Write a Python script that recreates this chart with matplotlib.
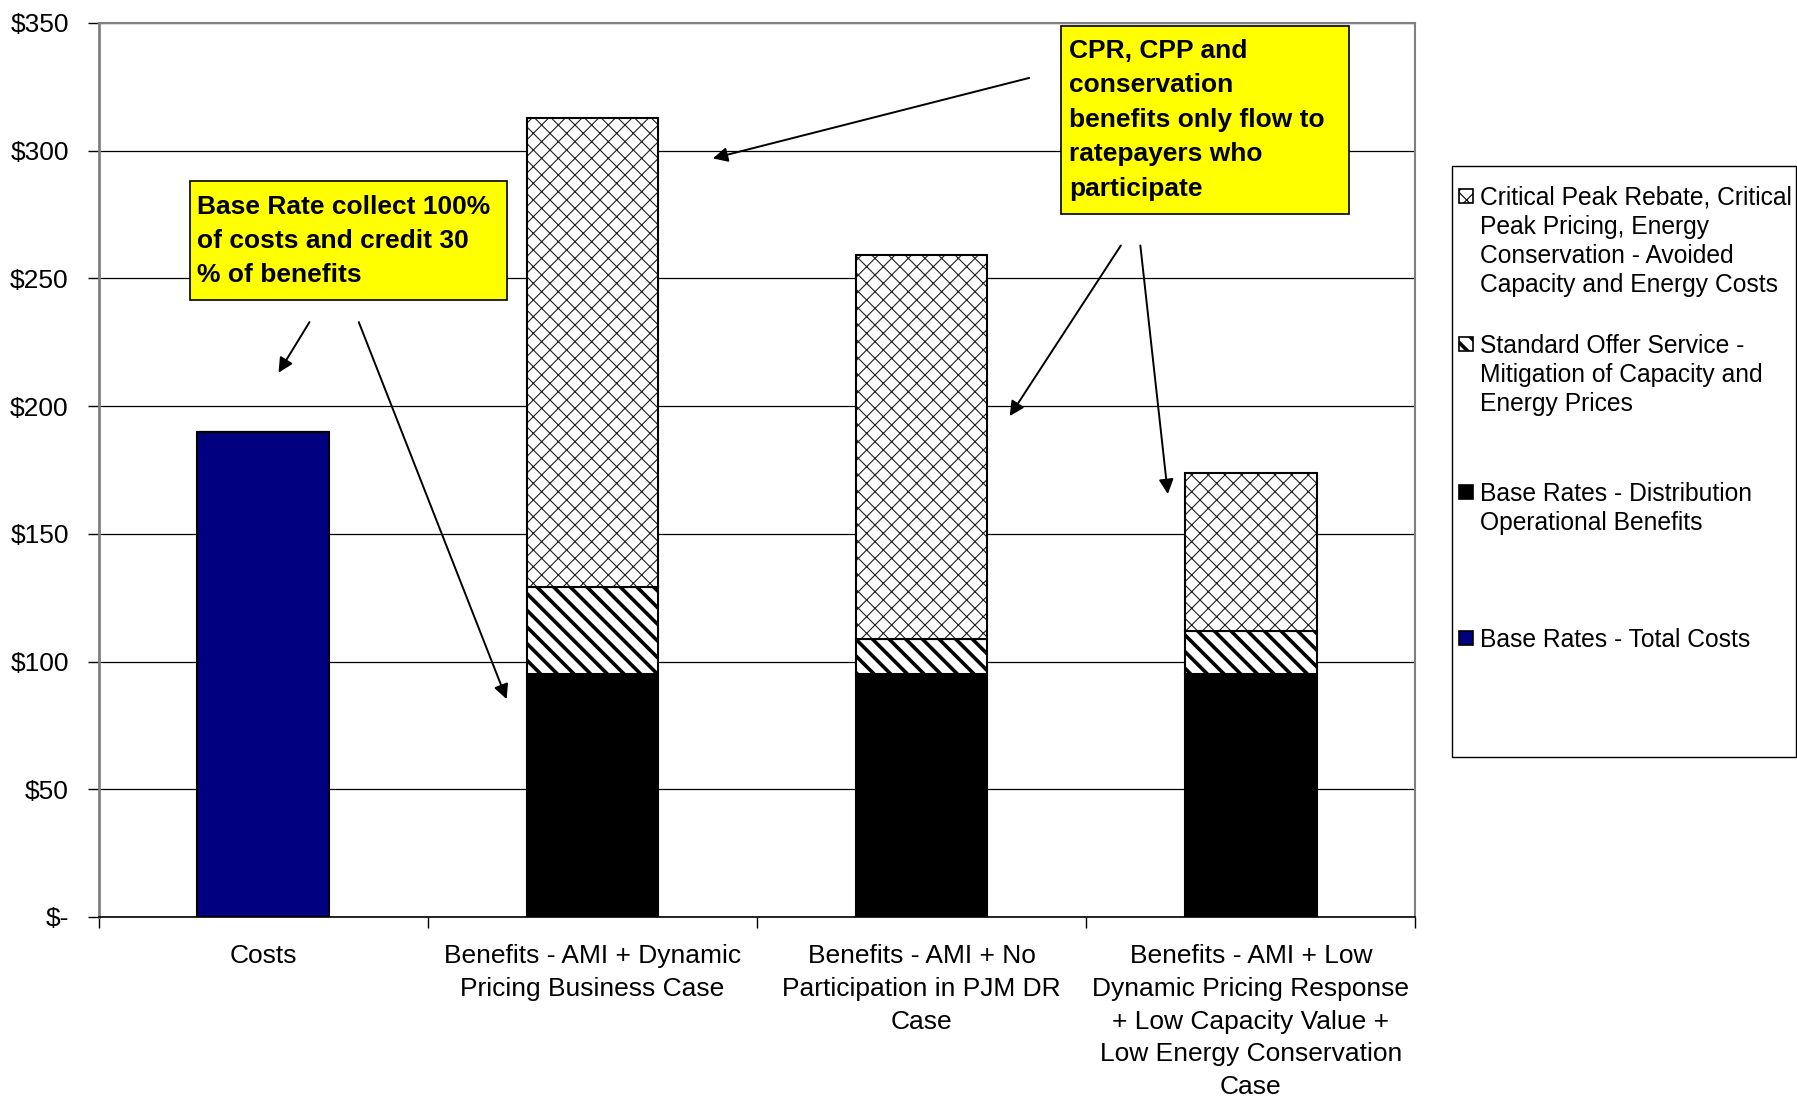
import matplotlib
matplotlib.use("Agg")
import matplotlib.pyplot as plt
from matplotlib.patches import Rectangle
from matplotlib.ticker import FixedLocator, FuncFormatter

plt.rcParams['font.family'] = ['Liberation Sans', 'DejaVu Sans']

# stacked benefit components vs. cost, $ millions
categories = ['Costs',
              'Benefits - AMI + Dynamic\nPricing Business Case',
              'Benefits - AMI + No\nParticipation in PJM DR\nCase',
              'Benefits - AMI + Low\nDynamic Pricing Response\n+ Low Capacity Value +\nLow Energy Conservation\nCase']
total_costs = [190, 0, 0, 0]
distribution_ops = [0, 95, 95, 95]
sos_mitigation = [0, 34, 14, 17]
cpr_cpp = [0, 184, 150, 62]

legend_labels = ['Critical Peak Rebate, Critical\nPeak Pricing, Energy\nConservation - Avoided\nCapacity and Energy Costs',
                 'Standard Offer Service -\nMitigation of Capacity and\nEnergy Prices',
                 'Base Rates - Distribution\nOperational Benefits',
                 'Base Rates - Total Costs']

W, H = 1797, 1098
fig = plt.figure(figsize=(W / 100, H / 100), dpi=100)
fig.patch.set_facecolor('white')


def fx(px):
    return px / W


def fy(py):
    return 1 - py / H


def set_hatch_lw(patches, lw):
    for p in patches:
        if hasattr(p, 'set_hatch_linewidth'):
            p.set_hatch_linewidth(lw)


ax = fig.add_axes([fx(98.6), fy(917), fx(1415.4) - fx(98.6), fy(23) - fy(917)])

x = range(len(categories))
bw = 0.4

ax.bar(x, total_costs, bw, color='#000080', edgecolor='black', linewidth=1.5, zorder=3)
ax.bar(x, distribution_ops, bw, color='black', edgecolor='black', linewidth=1.5, zorder=3)

bottom2 = [a + b for a, b in zip(total_costs, distribution_ops)]
with plt.rc_context({'hatch.linewidth': 2.6}):
    sos = ax.bar(x, sos_mitigation, bw, bottom=bottom2, color='white',
                 edgecolor='black', hatch='\\\\', linewidth=1.5, zorder=3)
    set_hatch_lw(sos, 2.6)

bottom3 = [a + b for a, b in zip(bottom2, sos_mitigation)]
with plt.rc_context({'hatch.linewidth': 0.8}):
    cpr = ax.bar(x, cpr_cpp, bw, bottom=bottom3, color='white',
                 edgecolor='#202020', hatch='xx', linewidth=0, zorder=3)
    set_hatch_lw(cpr, 0.8)
ax.bar(x, cpr_cpp, bw, bottom=bottom3, fill=False, edgecolor='black', linewidth=1.5, zorder=4)

ax.set_xlim(-0.5, 3.5)
ax.set_ylim(0, 350)
ax.set_yticks(range(0, 351, 50))
ax.yaxis.set_major_formatter(FuncFormatter(lambda v, _: '$-' if v == 0 else f'${v:.0f}'))
ax.tick_params(axis='y', length=8, width=1, direction='out', pad=13.5, labelsize=19)
ax.set_xticks(list(x))
ax.set_xticklabels(categories, fontsize=19, linespacing=1.46)
ax.tick_params(axis='x', which='major', length=0, pad=19.5)
ax.xaxis.set_minor_locator(FixedLocator([-0.5, 0.5, 1.5, 2.5, 3.5]))
ax.tick_params(axis='x', which='minor', length=8, width=1, direction='out')

ax.yaxis.grid(True, color='black', linewidth=0.9, zorder=0)
ax.set_axisbelow(True)
ax.spines['left'].set_color('#808080')
ax.spines['left'].set_linewidth(2)
for s in ('top', 'right'):
    ax.spines[s].set_color('#808080')
    ax.spines[s].set_linewidth(1.5)
ax.spines['bottom'].set_color('black')
ax.spines['bottom'].set_linewidth(1.2)

# callout boxes
fig.add_artist(Rectangle((fx(190), fy(300)), fx(506.5) - fx(190), fy(181) - fy(300),
                         transform=fig.transFigure, facecolor='#FFFF00',
                         edgecolor='black', linewidth=1.2, zorder=5))
fig.text(fx(197), fy(195), 'Base Rate collect 100%\nof costs and credit 30\n% of benefits',
         fontsize=19, fontweight='bold', va='top', ha='left', linespacing=1.53, zorder=6)

fig.add_artist(Rectangle((fx(1061), fy(214)), fx(1349) - fx(1061), fy(26) - fy(214),
                         transform=fig.transFigure, facecolor='#FFFF00',
                         edgecolor='black', linewidth=1.2, zorder=5))
fig.text(fx(1069), fy(38.5), 'CPR, CPP and\nconservation\nbenefits only flow to\nratepayers who\nparticipate',
         fontsize=19, fontweight='bold', va='top', ha='left', linespacing=1.56, zorder=6)

arrows = [((0.1406, 232.9), (0.0466, 213.1)),
          ((0.2903, 232.9), (0.7393, 85.3)),
          ((2.3268, 328.5), (1.366, 297.0)),
          ((2.6053, 262.9), (2.2676, 196.1)),
          ((2.6645, 262.9), (2.748, 165.6))]
for start, end in arrows:
    ax.annotate('', xy=end, xytext=start,
                arrowprops=dict(arrowstyle='-|>', mutation_scale=22, lw=1.4,
                                color='black', shrinkA=0, shrinkB=0),
                zorder=6, annotation_clip=False)

# legend panel
fig.add_artist(Rectangle((fx(1452), fy(757)), fx(1796) - fx(1452), fy(166) - fy(757),
                         transform=fig.transFigure, facecolor='white',
                         edgecolor='black', linewidth=1.0))
entry_y = [197, 345, 493, 639]
swatches = [(dict(facecolor='white', hatch='xx', edgecolor='black'), 0.8),
            (dict(facecolor='white', hatch='\\\\', edgecolor='black'), 2.6),
            (dict(facecolor='black', edgecolor='black'), 1.0),
            (dict(facecolor='#000080', edgecolor='black'), 1.0)]
for ey, label, (sw, hlw) in zip(entry_y, legend_labels, swatches):
    with plt.rc_context({'hatch.linewidth': hlw}):
        sq = Rectangle((fx(1459), fy(ey + 6)), fx(1473) - fx(1459), fy(ey - 8) - fy(ey + 6),
                       transform=fig.transFigure, linewidth=1.2, **sw)
        set_hatch_lw([sq], hlw)
    fig.add_artist(sq)
    fig.text(fx(1479.5), fy(ey - 11), label, fontsize=17.7, va='top', ha='left', linespacing=1.26)

fig.savefig('out.png', dpi=100, facecolor='white')
